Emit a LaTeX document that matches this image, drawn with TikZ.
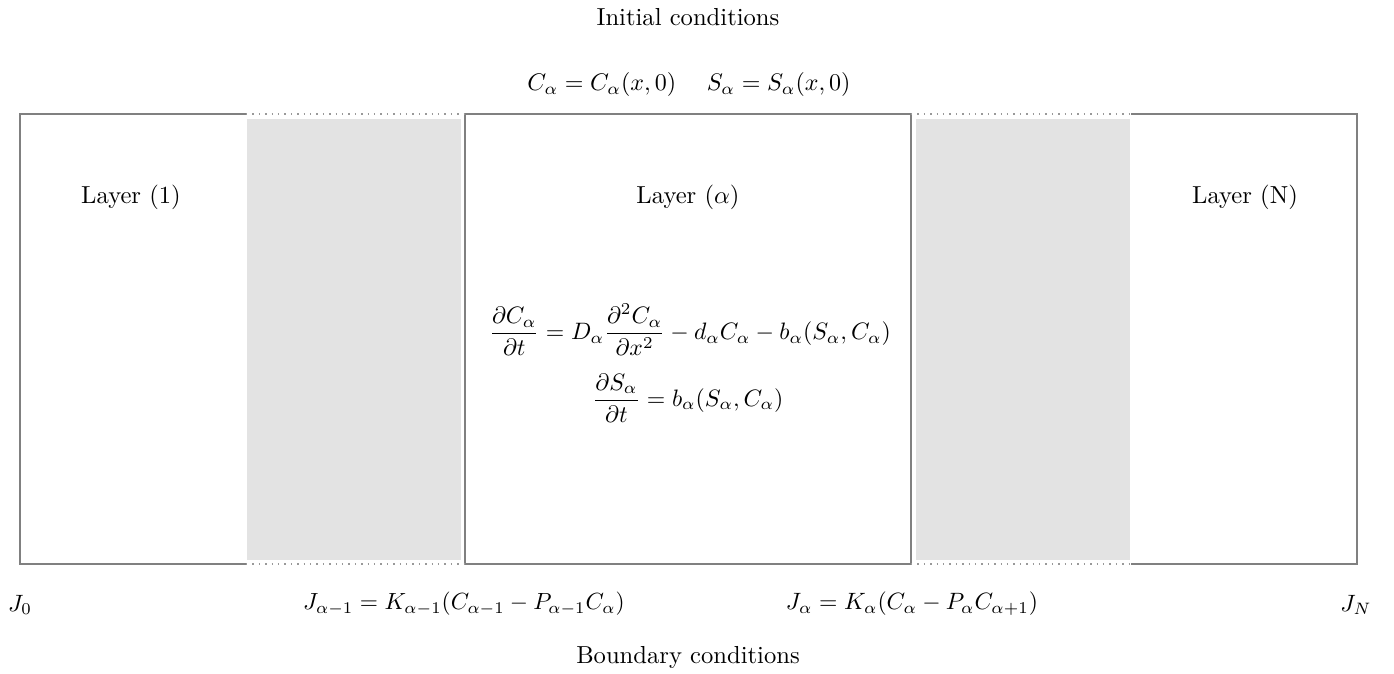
\documentclass[tikz,border=0pt]{standalone}
\usepackage{graphicx}
\begin{document}
\begin{tikzpicture}[x=0.0142857cm,y=-0.0142857cm,
  solidline/.style={draw=black!50,line width=0.6pt},
  dotline/.style={draw=black!40,line width=0.6pt,dotted},
  gap/.style={fill=black!11,draw=none},
  lbl/.style={inner sep=0pt}]
\useasboundingbox (0,0) rectangle (1394,674);
% grey interface regions
\fill[gap] (247,119) rectangle (461,560);
\fill[gap] (916,119) rectangle (1130,560);
% outer left layer
\draw[solidline] (246,114) -- (20,114) -- (20,564) -- (246,564);
% middle layer
\draw[solidline] (465,114) rectangle (911,564);
% right layer
\draw[solidline] (1131,114) -- (1357,114) -- (1357,564) -- (1131,564);
% dotted interfaces
\draw[dotline] (246,114) -- (465,114);
\draw[dotline] (246,564) -- (465,564);
\draw[dotline] (911,114) -- (1131,114);
\draw[dotline] (911,564) -- (1131,564);
% texts
\node[lbl] (ic) at (688,17) {Initial conditions};
\node[lbl] (icq) at (689,85) {\scalebox{0.975}{$C_\alpha = C_\alpha(x,0) \quad\; S_\alpha = S_\alpha(x,0)$}};
\node[lbl] (l1) at (131,197) {Layer (1)};
\node[lbl] (la) at (688,197) {Layer ($\alpha$)};
\node[lbl] (ln) at (1245,197) {Layer (N)};
\node[lbl] (eq1) at (690,330) {\scalebox{0.965}{$\displaystyle \frac{\partial C_\alpha}{\partial t} = D_\alpha \frac{\partial^2 C_\alpha}{\partial x^2} - d_\alpha C_\alpha - b_\alpha(S_\alpha, C_\alpha)$}};
\node[lbl] (eq2) at (688,398) {\scalebox{0.965}{$\displaystyle \frac{\partial S_\alpha}{\partial t} = b_\alpha(S_\alpha, C_\alpha)$}};
\node[lbl] (j0) at (20,605) {\scalebox{0.96}{$J_0$}};
\node[lbl] (jam) at (464,604) {\scalebox{0.95}{$J_{\alpha-1} = K_{\alpha-1}(C_{\alpha-1} - P_{\alpha-1} C_\alpha)$}};
\node[lbl] (ja) at (912,604) {\scalebox{0.96}{$J_\alpha = K_\alpha(C_\alpha - P_\alpha C_{\alpha+1})$}};
\node[lbl] (jn) at (1356,605) {\scalebox{0.96}{$J_N$}};
\node[lbl] (bc) at (688,657) {Boundary conditions};
\end{tikzpicture}
\end{document}
